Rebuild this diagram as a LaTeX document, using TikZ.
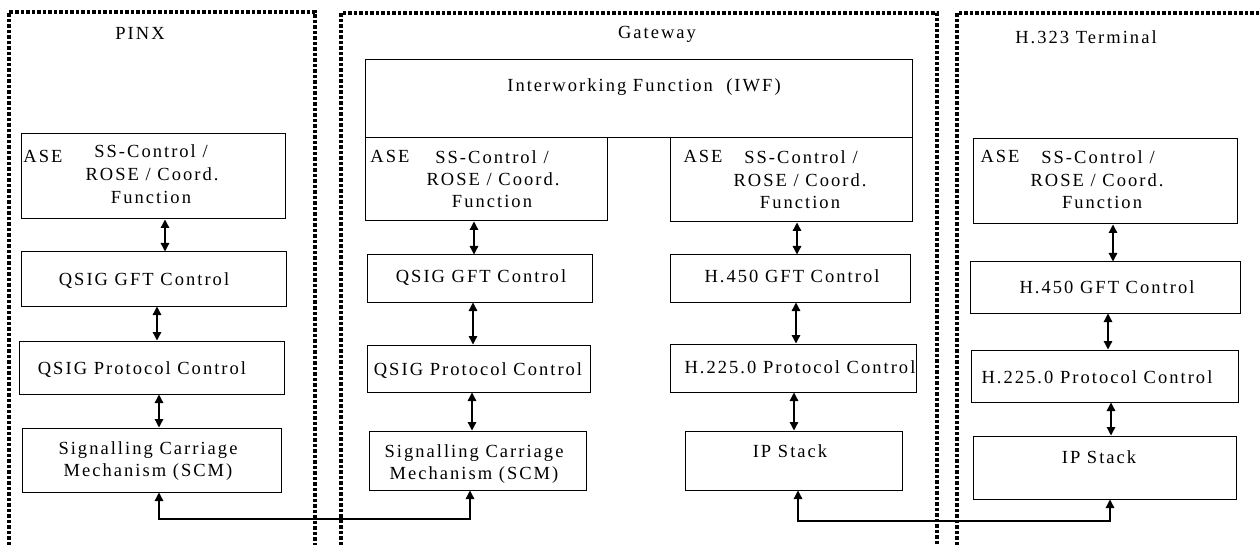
\documentclass[tikz,border=0pt]{standalone}
\usepackage{fontspec}
\setmainfont{Liberation Serif}[LetterSpace=11]
\usetikzlibrary{arrows.meta,fit}
\begin{document}
\begin{tikzpicture}[x=1pt,y=-1pt,
  box/.style={draw,line width=1pt,inner sep=0pt},
  frame/.style={line width=3.5pt,dash pattern=on 3.5pt off 2pt},
  lbl/.style={font=\fontsize{18.5}{22.5}\selectfont,inner sep=0pt,anchor=base},
  dbl/.style={line width=1.3pt,{Triangle[length=8.5pt,width=8.5pt]}-{Triangle[length=8.5pt,width=8.5pt]}}
]
\useasboundingbox (0,0) rectangle (1260,545);

% frames
\draw[frame] (9,545) -- (9,12) -- (315,12) -- (315,545);
\draw[frame] (341,545) -- (341,13) -- (937,13) -- (937,545);
\draw[frame] (957,545) -- (957,13) -- (1262,13);

\node[lbl] (tpinx) at (140,40) {PINX};
\node[lbl] (tgw) at (657,39) {Gateway};
\node[lbl] (tterm) at (1086,44) {H.323 Terminal};

% PINX boxes
\node[box,fit={(21,134) (285,219)}] (pase) {};
\node[box,fit={(21,252) (286,306)}] (pgft) {};
\node[box,fit={(19,341) (284,394)}] (ppc) {};
\node[box,fit={(22,428) (281,492)}] (pscm) {};
% Gateway boxes
\node[box,fit={(365,60) (912,138)}] (iwf) {};
\node[box,fit={(365,138) (607,221)}] (gase1) {};
\node[box,fit={(670,138) (912,222)}] (gase2) {};
\node[box,fit={(367,255) (592,302)}] (ggft) {};
\node[box,fit={(367,345) (590,392)}] (gpc) {};
\node[box,fit={(369,431) (586,490)}] (gscm) {};
\node[box,fit={(670,255) (910,302)}] (hgft) {};
\node[box,fit={(670,344) (916,392)}] (hpc) {};
\node[box,fit={(685,431) (902,490)}] (gip) {};
% Terminal boxes
\node[box,fit={(973,139) (1237,224)}] (tase) {};
\node[box,fit={(970,262) (1240,313)}] (tgft) {};
\node[box,fit={(971,350) (1238,402)}] (tpc) {};
\node[box,fit={(973,436) (1236,499)}] (tip) {};

% texts
\node[lbl] (l1) at (43,163) {ASE};
\node[lbl] (l2) at (151,158) {SS-Control /};
\node[lbl] (l3) at (152,181) {ROSE / Coord.};
\node[lbl] (l4) at (151,204) {Function};
\node[lbl] (l5) at (144,285) {QSIG GFT Control};
\node[lbl] (l6) at (142,374) {QSIG Protocol Control};
\node[lbl] (l7) at (148,454) {Signalling Carriage};
\node[lbl] (l8) at (148,476) {Mechanism (SCM)};

\node[lbl] (g0) at (644,92) {Interworking Function~~(IWF)};
\node[lbl] (g1) at (390,163) {ASE};
\node[lbl] (g2) at (492,164) {SS-Control /};
\node[lbl] (g3) at (493,186) {ROSE / Coord.};
\node[lbl] (g4) at (492,208) {Function};
\node[lbl] (g5) at (481,282) {QSIG GFT Control};
\node[lbl] (g6) at (478,375) {QSIG Protocol Control};
\node[lbl] (g7) at (474,457) {Signalling Carriage};
\node[lbl] (g8) at (474,479) {Mechanism (SCM)};

\node[lbl] (h1) at (703,163) {ASE};
\node[lbl] (h2) at (801,164) {SS-Control /};
\node[lbl] (h3) at (800,187) {ROSE / Coord.};
\node[lbl] (h4) at (800,209) {Function};
\node[lbl] (h5) at (792,282) {H.450 GFT Control};
\node[lbl] (h6) at (800,373) {H.225.0 Protocol Control};
\node[lbl] (h7) at (790,457) {IP Stack};

\node[lbl] (t1) at (1000,163) {ASE};
\node[lbl] (t2) at (1098,164) {SS-Control /};
\node[lbl] (t3) at (1097,187) {ROSE / Coord.};
\node[lbl] (t4) at (1102,209) {Function};
\node[lbl] (t5) at (1107,293) {H.450 GFT Control};
\node[lbl] (t6) at (1097,383) {H.225.0 Protocol Control};
\node[lbl] (t7) at (1099,463) {IP Stack};

% arrow x positions
\coordinate (xa1) at (165,0);
\coordinate (xa2) at (157,0);
\coordinate (xa3) at (159,0);
\coordinate (xb1) at (474,0);
\coordinate (xb2) at (473,0);
\coordinate (xb3) at (472,0);
\coordinate (xc1) at (797,0);
\coordinate (xc2) at (796,0);
\coordinate (xc3) at (794,0);
\coordinate (xd1) at (1113,0);
\coordinate (xd2) at (1108,0);
\coordinate (xd3) at (1111,0);

\draw[dbl] (pase.south -| xa1) -- (pgft.north -| xa1);
\draw[dbl] (pgft.south -| xa2) -- (ppc.north -| xa2);
\draw[dbl] (ppc.south -| xa3) -- (pscm.north -| xa3);
\draw[dbl] (gase1.south -| xb1) -- (ggft.north -| xb1);
\draw[dbl] (ggft.south -| xb2) -- (gpc.north -| xb2);
\draw[dbl] (gpc.south -| xb3) -- (gscm.north -| xb3);
\draw[dbl] (gase2.south -| xc1) -- (hgft.north -| xc1);
\draw[dbl] (hgft.south -| xc2) -- (hpc.north -| xc2);
\draw[dbl] (hpc.south -| xc3) -- (gip.north -| xc3);
\draw[dbl] (tase.south -| xd1) -- (tgft.north -| xd1);
\draw[dbl] (tgft.south -| xd2) -- (tpc.north -| xd2);
\draw[dbl] (tpc.south -| xd3) -- (tip.north -| xd3);

% bottom links
\coordinate (j1) at (159,519);
\coordinate (j2) at (470,519);
\coordinate (k1) at (798,521);
\coordinate (k2) at (1110,521);
\draw[dbl] (pscm.south -| j1) -- (j1) -- (j2) -- (gscm.south -| j2);
\draw[dbl] (gip.south -| k1) -- (k1) -- (k2) -- (tip.south -| k2);
\end{tikzpicture}
\end{document}
